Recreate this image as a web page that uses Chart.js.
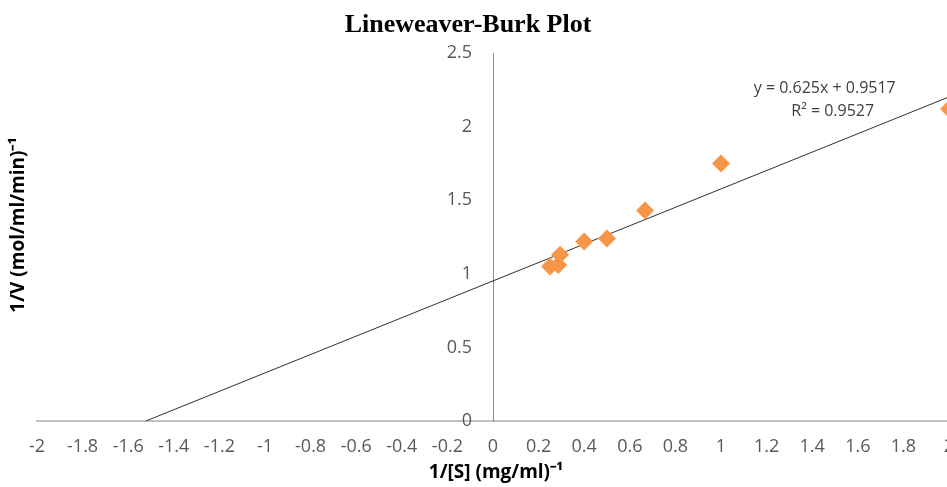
<!DOCTYPE html>
<html>
<head>
<meta charset="utf-8">
<script src="https://cdn.jsdelivr.net/npm/chart.js@4"></script>
<style>
  html, body { margin: 0; padding: 0; background: #fff; overflow: hidden; }
  #wrap { position: relative; width: 970px; height: 487px; }
</style>
</head>
<body>
<div id="wrap"><canvas id="chart"></canvas></div>
<script>
// 1/[S] and 1/V
const invS = [0.25, 0.286, 0.294, 0.4, 0.5, 0.667, 1, 2];
const invV = [1.05, 1.06, 1.13, 1.22, 1.24, 1.43, 1.75, 2.12];

// linear trendline as printed on the chart
const slope = 0.625;
const intercept = 0.9517;
const rSquared = 0.9527;

const xMin = -2, xMax = 2, xStep = 0.2;
const yMin = 0, yMax = 2.5, yStep = 0.5;

const points = invS.map((x, i) => ({ x: x, y: invV[i] }));
const trendX = [-intercept / slope, xMax];
const trend = trendX.map(x => ({ x: x, y: slope * x + intercept }));

const tickFont = { family: 'Open Sans', size: 18 };
const tickColor = '#595959';
const fmt = v => String(Math.round(v * 10) / 10);

const textPlugin = {
  id: 'texts',
  afterDraw(chart) {
    const c = chart.ctx;
    const sx = chart.scales.x, sy = chart.scales.y;

    // y tick labels, left of the axis that sits at x = 0
    c.save();
    c.fillStyle = tickColor;
    c.font = '18px "Open Sans"';
    c.textAlign = 'right';
    c.textBaseline = 'middle';
    const axisX = sx.getPixelForValue(0);
    sy.ticks.forEach(t => {
      c.fillText(fmt(t.value), axisX - 21, sy.getPixelForValue(t.value));
    });
    c.restore();

    c.save();
    c.fillStyle = '#000';
    c.textAlign = 'center';
    c.textBaseline = 'middle';
    c.font = 'bold 26px "Liberation Serif"';
    c.fillText('Lineweaver-Burk Plot', 468, 25);

    c.font = 'bold 19px "Open Sans"';
    c.fillText('1/[S] (mg/ml)\u207B\u00B9', 496, 473);

    c.translate(19, 225);
    c.rotate(-Math.PI / 2);
    c.fillText('1/V (mol/ml/min)\u207B\u00B9', 0, 0);
    c.restore();

    c.save();
    c.fillStyle = '#404040';
    c.font = '16px "Open Sans"';
    c.textAlign = 'center';
    c.textBaseline = 'middle';
    c.fillText('y = ' + slope + 'x + ' + intercept, sx.getPixelForValue(1.455), sy.getPixelForValue(2.26));
    c.fillText('R\u00B2 = ' + rSquared, sx.getPixelForValue(1.49), sy.getPixelForValue(2.105));
    c.restore();
  }
};

const ctx = document.getElementById('chart');

const config = {
  type: 'scatter',
  data: {
    datasets: [
      {
        label: 'data',
        data: points,
        pointStyle: 'rectRot',
        pointRadius: 9,
        pointHoverRadius: 9,
        backgroundColor: '#f79646',
        borderColor: '#f79646',
        borderWidth: 0,
        clip: false,
        order: 1
      },
      {
        label: 'trend',
        type: 'line',
        data: trend,
        borderColor: '#303030',
        borderWidth: 1,
        pointRadius: 0,
        fill: false,
        order: 2
      }
    ]
  },
  options: {
    responsive: true,
    maintainAspectRatio: false,
    animation: false,
    layout: { padding: { left: 37, right: 21, top: 53, bottom: 66 } },
    plugins: {
      legend: { display: false },
      tooltip: { enabled: false },
      title: { display: false }
    },
    scales: {
      x: {
        type: 'linear',
        min: xMin,
        max: xMax,
        position: { y: 0 },
        grid: { display: false, drawTicks: false },
        border: { display: true, color: '#c0c0c0', width: 2 },
        ticks: {
          stepSize: xStep,
          autoSkip: false,
          maxRotation: 0,
          padding: 15,
          color: tickColor,
          font: tickFont,
          callback: v => fmt(v)
        },
        afterFit(scale) { scale.height = 0; }
      },
      y: {
        type: 'linear',
        min: yMin,
        max: yMax,
        position: { x: 0 },
        grid: { display: false, drawTicks: false },
        border: { display: true, color: '#8c8c8c', width: 1 },
        ticks: {
          stepSize: yStep,
          display: false
        },
        afterFit(scale) { scale.width = 0; }
      }
    }
  },
  plugins: [textPlugin]
};

const myChart = new Chart(ctx, config);
</script>
</body>
</html>
